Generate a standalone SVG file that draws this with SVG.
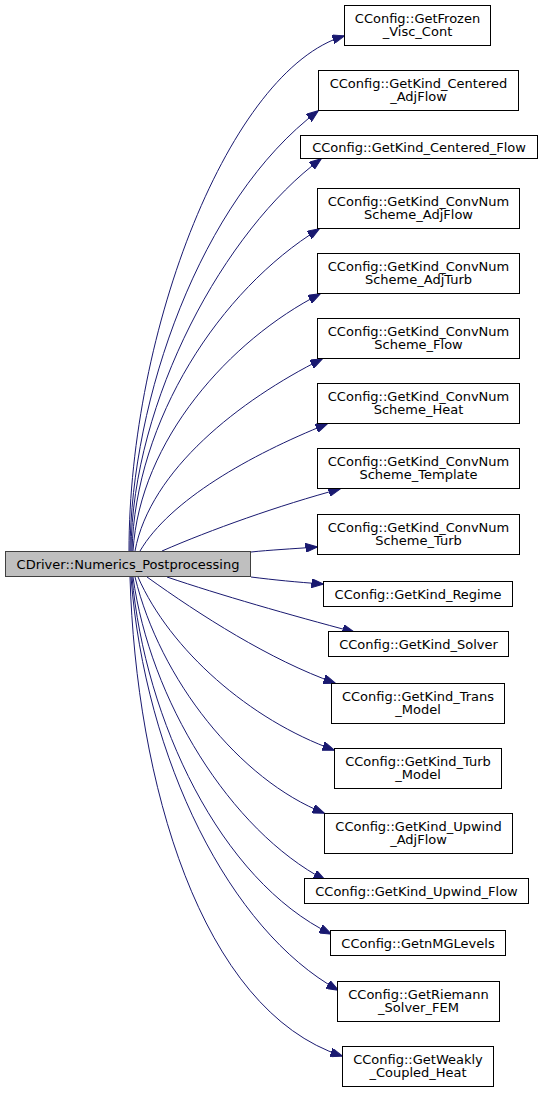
<svg xmlns="http://www.w3.org/2000/svg" width="541" height="1093" viewBox="0 0 541 1093">
<style>
  .node rect { fill: #ffffff; stroke: #000000; stroke-width: 1; }
  .node.main rect { fill: #bfbfbf; stroke: #404040; }
  .node text { font-family: "DejaVu Sans", "Liberation Sans", sans-serif; font-size: 13px; fill: #000000; text-anchor: middle; }
  .edges path { fill: none; stroke: #191970; stroke-width: 1; marker-end: url(#ah); }
</style>
<defs>
  <marker id="ah" viewBox="0 0 12 9" refX="11.5" refY="4.5" markerWidth="12" markerHeight="9" markerUnits="userSpaceOnUse" orient="auto">
    <path d="M0,0 L12,4.5 L0,9 z" fill="#191970" stroke="#191970" stroke-width="1"/>
  </marker>
</defs>
<rect width="541" height="1093" fill="#ffffff"/>
<g id="edges" class="edges">
  <path d="M129,551 C129,330 230,70 344,36"/>
  <path d="M130,551 C131,400 200,200 318,111"/>
  <path d="M131,551 C132,400 225,230 321,159"/>
  <path d="M132,551 C135,420 220,290 319,229"/>
  <path d="M133,551 C140,440 230,340 320,294"/>
  <path d="M135,551 C150,470 240,400 322,359"/>
  <path d="M140,551 C170,500 250,455 327,424"/>
  <path d="M162,551 C210,530 280,505 340,489"/>
  <path d="M251,552 C270,550 290,549 317,547"/>
  <path d="M251,577 C275,580 295,582 323,584"/>
  <path d="M167,577 C220,595 290,615 354,632"/>
  <path d="M147,577 C200,615 270,660 335,683"/>
  <path d="M138,577 C170,650 250,720 334,750"/>
  <path d="M135,577 C160,680 240,780 324,813"/>
  <path d="M133,577 C150,700 230,830 325,880"/>
  <path d="M132,577 C145,720 220,880 331,934"/>
  <path d="M131,577 C145,760 230,930 338,990"/>
  <path d="M130,577 C136,780 200,1010 342,1056"/>
</g>
<g id="node_main" class="node main">
  <rect x="5.5" y="551.5" width="245" height="25"/>
  <text x="128" y="568.5">CDriver::Numerics_Postprocessing</text>
</g>
<g id="node_frozen" class="node">
  <rect x="344.5" y="5.5" width="146" height="40"/>
  <text x="417.5" y="23">CConfig::GetFrozen</text>
  <text x="417.5" y="36">_Visc_Cont</text>
</g>
<g id="node_centered_adjflow" class="node">
  <rect x="318.5" y="70.5" width="200" height="40"/>
  <text x="418.5" y="88">CConfig::GetKind_Centered</text>
  <text x="418.5" y="101">_AdjFlow</text>
</g>
<g id="node_centered_flow" class="node">
  <rect x="300.5" y="135.5" width="237" height="23"/>
  <text x="419" y="151.5">CConfig::GetKind_Centered_Flow</text>
</g>
<g id="node_convnum_adjflow" class="node">
  <rect x="317.5" y="188.5" width="202" height="40"/>
  <text x="418.5" y="206">CConfig::GetKind_ConvNum</text>
  <text x="418.5" y="219">Scheme_AdjFlow</text>
</g>
<g id="node_convnum_adjturb" class="node">
  <rect x="317.5" y="253.5" width="202" height="40"/>
  <text x="418.5" y="271">CConfig::GetKind_ConvNum</text>
  <text x="418.5" y="284">Scheme_AdjTurb</text>
</g>
<g id="node_convnum_flow" class="node">
  <rect x="317.5" y="318.5" width="202" height="40"/>
  <text x="418.5" y="336">CConfig::GetKind_ConvNum</text>
  <text x="418.5" y="349">Scheme_Flow</text>
</g>
<g id="node_convnum_heat" class="node">
  <rect x="317.5" y="383.5" width="202" height="40"/>
  <text x="418.5" y="401">CConfig::GetKind_ConvNum</text>
  <text x="418.5" y="414">Scheme_Heat</text>
</g>
<g id="node_convnum_template" class="node">
  <rect x="317.5" y="448.5" width="202" height="40"/>
  <text x="418.5" y="466">CConfig::GetKind_ConvNum</text>
  <text x="418.5" y="479">Scheme_Template</text>
</g>
<g id="node_convnum_turb" class="node">
  <rect x="317.5" y="514.5" width="202" height="40"/>
  <text x="418.5" y="532">CConfig::GetKind_ConvNum</text>
  <text x="418.5" y="545">Scheme_Turb</text>
</g>
<g id="node_regime" class="node">
  <rect x="323.5" y="581.5" width="189" height="25"/>
  <text x="418" y="598.5">CConfig::GetKind_Regime</text>
</g>
<g id="node_solver" class="node">
  <rect x="328.5" y="631.5" width="180" height="25"/>
  <text x="418.5" y="648.5">CConfig::GetKind_Solver</text>
</g>
<g id="node_trans_model" class="node">
  <rect x="331.5" y="683.5" width="173" height="40"/>
  <text x="418" y="701">CConfig::GetKind_Trans</text>
  <text x="418" y="714">_Model</text>
</g>
<g id="node_turb_model" class="node">
  <rect x="334.5" y="748.5" width="167" height="40"/>
  <text x="418" y="766">CConfig::GetKind_Turb</text>
  <text x="418" y="779">_Model</text>
</g>
<g id="node_upwind_adjflow" class="node">
  <rect x="324.5" y="813.5" width="188" height="40"/>
  <text x="418.5" y="831">CConfig::GetKind_Upwind</text>
  <text x="418.5" y="844">_AdjFlow</text>
</g>
<g id="node_upwind_flow" class="node">
  <rect x="304.5" y="878.5" width="224" height="25"/>
  <text x="416.5" y="895.5">CConfig::GetKind_Upwind_Flow</text>
</g>
<g id="node_nmglevels" class="node">
  <rect x="330.5" y="930.5" width="175" height="25"/>
  <text x="418" y="947.5">CConfig::GetnMGLevels</text>
</g>
<g id="node_riemann" class="node">
  <rect x="337.5" y="981.5" width="162" height="40"/>
  <text x="418.5" y="999">CConfig::GetRiemann</text>
  <text x="418.5" y="1012">_Solver_FEM</text>
</g>
<g id="node_weakly" class="node">
  <rect x="342.5" y="1046.5" width="151" height="40"/>
  <text x="418" y="1064">CConfig::GetWeakly</text>
  <text x="418" y="1077">_Coupled_Heat</text>
</g>
</svg>
